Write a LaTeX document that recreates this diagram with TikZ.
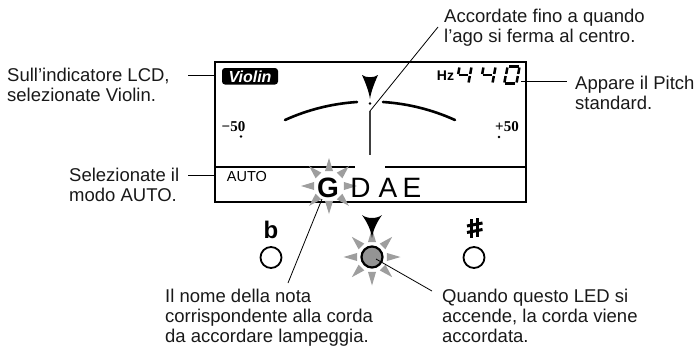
\documentclass[tikz,border=0pt]{standalone}
\usepackage{fontspec}
\setmainfont{Liberation Sans}
\newfontfamily\serifx{Liberation Serif}
\definecolor{raygray}{gray}{0.62}
\definecolor{ledgray}{gray}{0.58}
\begin{document}
\begin{tikzpicture}[x=1pt,y=-1pt,
  lbl/.style={font=\fontsize{18.5}{20}\selectfont, align=left, inner sep=0pt, text=black!90},
  leader/.style={line width=0.8pt, black},
  lcdframe/.style={line width=2pt, black},
  seg/.style={line width=2.5pt, line cap=butt},
  ray/.style={fill=raygray, draw=none},
  button/.style={draw=black, line width=1.8pt, fill=white},
  arcstroke/.style={line width=2.6pt, line cap=round},
  note/.style={inner sep=0pt, font=\fontsize{28}{30}\selectfont}
]
\useasboundingbox (0,0) rectangle (695,349);

% ---- LCD frame
\draw[lcdframe] (215,62) rectangle (526,202);
\coordinate (divL) at (215,167);
\coordinate (divA) at (355,167);
\coordinate (divB) at (385,167);
\coordinate (divR) at (526,167);
\draw[line width=1.2pt] (divL) -- (divA);
\draw[line width=1.2pt] (divB) -- (divR);

% ---- Violin label
\fill[black, rounded corners=3pt] (222,68) rectangle (278,84.5);
\node[inner sep=0pt, text=white, font=\fontsize{16}{17}\selectfont\bfseries\itshape] (violin) at (250,76.5) {Violin};

% ---- Hz 440
\node[inner sep=0pt, anchor=base, font=\fontsize{14}{15}\selectfont\bfseries] (hz) at (445.5,80.5) {Hz};
\begin{scope}[shift={(456,83.5)}]
  \draw[seg] (3.4,-16) -- (2.2,-9.5);
  \draw[seg] (3.4,-8.5) -- (11.6,-8.5);
  \draw[seg] (15.4,-16) -- (14.2,-9.5);
  \draw[seg] (13.8,-7.5) -- (12.6,-1);
\end{scope}
\begin{scope}[shift={(480,83.5)}]
  \draw[seg] (3.4,-16) -- (2.2,-9.5);
  \draw[seg] (3.4,-8.5) -- (11.6,-8.5);
  \draw[seg] (15.4,-16) -- (14.2,-9.5);
  \draw[seg] (13.8,-7.5) -- (12.6,-1);
\end{scope}
\begin{scope}[shift={(504,83.5)}]
  \draw[seg] (5,-17) -- (14.5,-17);
  \draw[seg] (15.4,-16) -- (14.2,-9.5);
  \draw[seg] (13.8,-7.5) -- (12.6,-1);
  \draw[seg] (1,0) -- (10.5,0);
  \draw[seg] (1.6,-7.5) -- (0.4,-1);
  \draw[seg] (3.4,-16) -- (2.2,-9.5);
\end{scope}
\coordinate (digitsR) at (521,81);

% ---- meter
\fill (362,75) .. controls (366,84) and (369,92) .. (370,99) .. controls (371,92) and (374,84) .. (378,75) .. controls (374,78) and (366,78) .. (362,75) -- cycle;
\fill (370,103.5) circle[radius=1.4pt];
\draw[arcstroke] (285,120) .. controls (307.7,109.7) and (332.1,103.6) .. (357,102);
\draw[arcstroke] (383,102) .. controls (407.9,103.6) and (432.3,109.7) .. (455,120);
\coordinate (needletop) at (370,111);
\coordinate (needlebot) at (370,155);
\draw[line width=1.3pt, black!75] (needletop) -- (needlebot);

\node[inner sep=0pt, font=\serifx\fontsize{15}{16}\selectfont\bfseries] (minus50) at (233.5,127) {−50};
\fill (241,136.5) circle[radius=1.3pt];
\node[inner sep=0pt, font=\serifx\fontsize{15}{16}\selectfont\bfseries] (plus50) at (507,127) {+50};
\fill (499,137) circle[radius=1.3pt];

% ---- AUTO and strings
\node[inner sep=0pt, font=\fontsize{14.5}{15}\selectfont] (auto) at (247,177) {AUTO};

\begin{scope}[shift={(329,186)}]
  \foreach \a in {0,45,...,315}
    \fill[ray] (\a-15:15.5) -- (\a:28) -- (\a+15:15.5) -- cycle;
\end{scope}
\node[note, anchor=base, font=\fontsize{28}{30}\selectfont\bfseries] (G) at (328,197.5) {G};
\node[note, anchor=base] (D) at (360.5,197.5) {D};
\node[note, anchor=base] (A) at (388,197.5) {A};
\node[note, anchor=base] (E) at (412,197.5) {E};

% ---- buttons
\node[inner sep=0pt, anchor=base, font=\fontsize{24}{25}\selectfont\bfseries] (flat) at (271,238) {b};
\node[button, circle, minimum size=21pt, inner sep=0pt] (flatled) at (271,257.5) {};

\draw[line width=2.3pt] (471.5,219) -- (471.5,238);
\draw[line width=2.3pt] (477.5,218) -- (477.5,237);
\draw[line width=3pt] (467,226) -- (482.5,223);
\draw[line width=3pt] (467,232.5) -- (482.5,229.5);
\coordinate (sharp) at (474.5,228);
\node[button, circle, minimum size=21pt, inner sep=0pt] (sharpled) at (474,257.5) {};

\begin{scope}[shift={(372,257)}]
  \foreach \a in {0,45,...,315}
    \fill[ray] (\a-15:15.5) -- (\a:28.5) -- (\a+15:15.5) -- cycle;
\end{scope}
\node[circle, draw=black, line width=2.2pt, fill=ledgray, minimum size=21pt, inner sep=0pt] (led) at (372,257) {};
\fill (362,215) .. controls (367,222) and (371,230) .. (372,238) .. controls (373,230) and (377,222) .. (382,215) .. controls (377,219) and (367,219) .. (362,215) -- cycle;

% ---- labels
\node[lbl, anchor=west] (t1) at (7,85) {Sull’indicatore LCD,\\selezionate Violin.};
\node[lbl, anchor=west] (t2) at (69,185) {Selezionate il\\modo AUTO.};
\node[lbl, anchor=west] (t3) at (444,28) {Accordate fino a quando\\l’ago si ferma al centro.};
\node[lbl, anchor=west] (t4) at (575,93) {Appare il Pitch\\standard.};
\node[lbl, anchor=north west] (t5) at (165,289) {Il nome della nota\\corrispondente alla corda\\da accordare lampeggia.};
\node[lbl, anchor=north west] (t6) at (442,289) {Quando questo LED si\\accende, la corda viene\\accordata.};

% ---- leaders
\coordinate (l1a) at (188,75);
\coordinate (l1b) at (215,75);
\coordinate (l2a) at (188,175);
\coordinate (l2b) at (215,175);
\coordinate (l3end) at (438,27);
\coordinate (l4end) at (567,81);
\coordinate (l5a) at (322,199);
\coordinate (l5end) at (288,283);
\coordinate (l6a) at (376,259);
\coordinate (l6end) at (432,291);
\draw[leader] (l1a) -- (l1b);
\draw[leader] (l2a) -- (l2b);
\draw[leader] (needletop) -- (l3end);
\draw[leader] (digitsR) -- (l4end);
\draw[leader] (l5a) -- (l5end);
\draw[leader] (l6a) -- (l6end);
\end{tikzpicture}
\end{document}
